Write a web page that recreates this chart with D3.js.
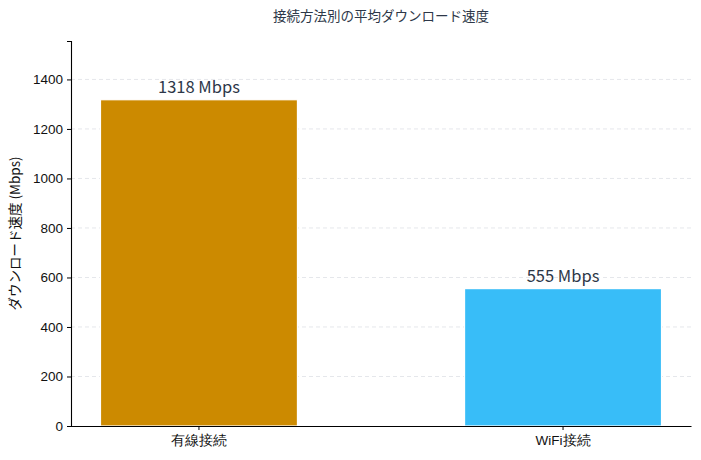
<!DOCTYPE html>
<meta charset="utf-8">
<script src="https://cdn.jsdelivr.net/npm/d3@7"></script>
<style>
body {
  margin: 0;
  font-family: "Noto Sans CJK JP", "Noto Sans", sans-serif;
  background: #fff;
}
.grid line {
  stroke: #e5e7eb;
  stroke-dasharray: 4,3;
}
.axis text {
  font-size: 13.5px;
  fill: #111;
}
</style>
<body>
<script>

// data
var categories = ["有線接続", "WiFi接続"];
var speeds = [1318, 555];
var colors = ["#cc8a00", "#38bdf8"];
var yTicks = [0, 200, 400, 600, 800, 1000, 1200, 1400];

var W = 701, H = 460;
var margin = {top: 41, right: 10, bottom: 34, left: 71},
    width = W - margin.left - margin.right,
    height = H - margin.top - margin.bottom;

var svg = d3.select("body").append("svg")
    .attr("width", W)
    .attr("height", H);

var g = svg.append("g")
    .attr("transform", "translate(" + margin.left + "," + margin.top + ")");

var x = d3.scaleBand()
    .domain(categories)
    .range([0, width])
    .paddingInner(0.459)
    .paddingOuter(0.081);

var y = d3.scaleLinear()
    .domain([0, d3.max(speeds) * 1.18])
    .range([height, 0]);

// grid lines
g.append("g")
    .attr("class", "grid")
    .selectAll("line")
    .data(yTicks.slice(1))
    .enter().append("line")
    .attr("x1", 0)
    .attr("x2", width)
    .attr("y1", function(d) { return y(d); })
    .attr("y2", function(d) { return y(d); });

// bars
g.selectAll(".bar")
    .data(speeds)
    .enter().append("rect")
    .attr("class", "bar")
    .attr("x", function(d, i) { return x(categories[i]); })
    .attr("y", function(d) { return y(d); })
    .attr("width", x.bandwidth())
    .attr("height", function(d) { return height - y(d); })
    .attr("fill", function(d, i) { return colors[i]; })
    .attr("stroke", "#fff")
    .attr("stroke-width", 1.2);

// value labels
g.selectAll(".val")
    .data(speeds)
    .enter().append("text")
    .attr("class", "val")
    .attr("x", function(d, i) { return x(categories[i]) + x.bandwidth() / 2; })
    .attr("y", function(d) { return y(d) - 7; })
    .attr("text-anchor", "middle")
    .style("font-size", "16.5px")
    .style("fill", "#2d3748")
    .text(function(d) { return d + " Mbps"; });

// axes
var yAxis = g.append("g")
    .attr("class", "axis")
    .call(d3.axisLeft(y).tickValues(yTicks).tickFormat(d3.format("d")).tickSize(4).tickPadding(4));
yAxis.select(".domain").attr("stroke", "#000").attr("stroke-width", 1.1);

var xAxis = g.append("g")
    .attr("class", "axis")
    .attr("transform", "translate(0," + height + ")")
    .call(d3.axisBottom(x).tickSize(4).tickPadding(5).tickSizeOuter(0));
xAxis.select(".domain").attr("stroke", "#000").attr("stroke-width", 1.1);

// title and axis label
svg.append("text")
    .attr("x", margin.left + width / 2)
    .attr("y", 21)
    .attr("text-anchor", "middle")
    .style("font-size", "13.5px")
    .style("fill", "#2d3748")
    .text("接続方法別の平均ダウンロード速度");

svg.append("text")
    .attr("transform", "translate(20," + (margin.top + height / 2) + ") rotate(-90)")
    .attr("text-anchor", "middle")
    .style("font-size", "13.5px")
    .style("fill", "#111")
    .text("ダウンロード速度 (Mbps)");

</script>
</body>
